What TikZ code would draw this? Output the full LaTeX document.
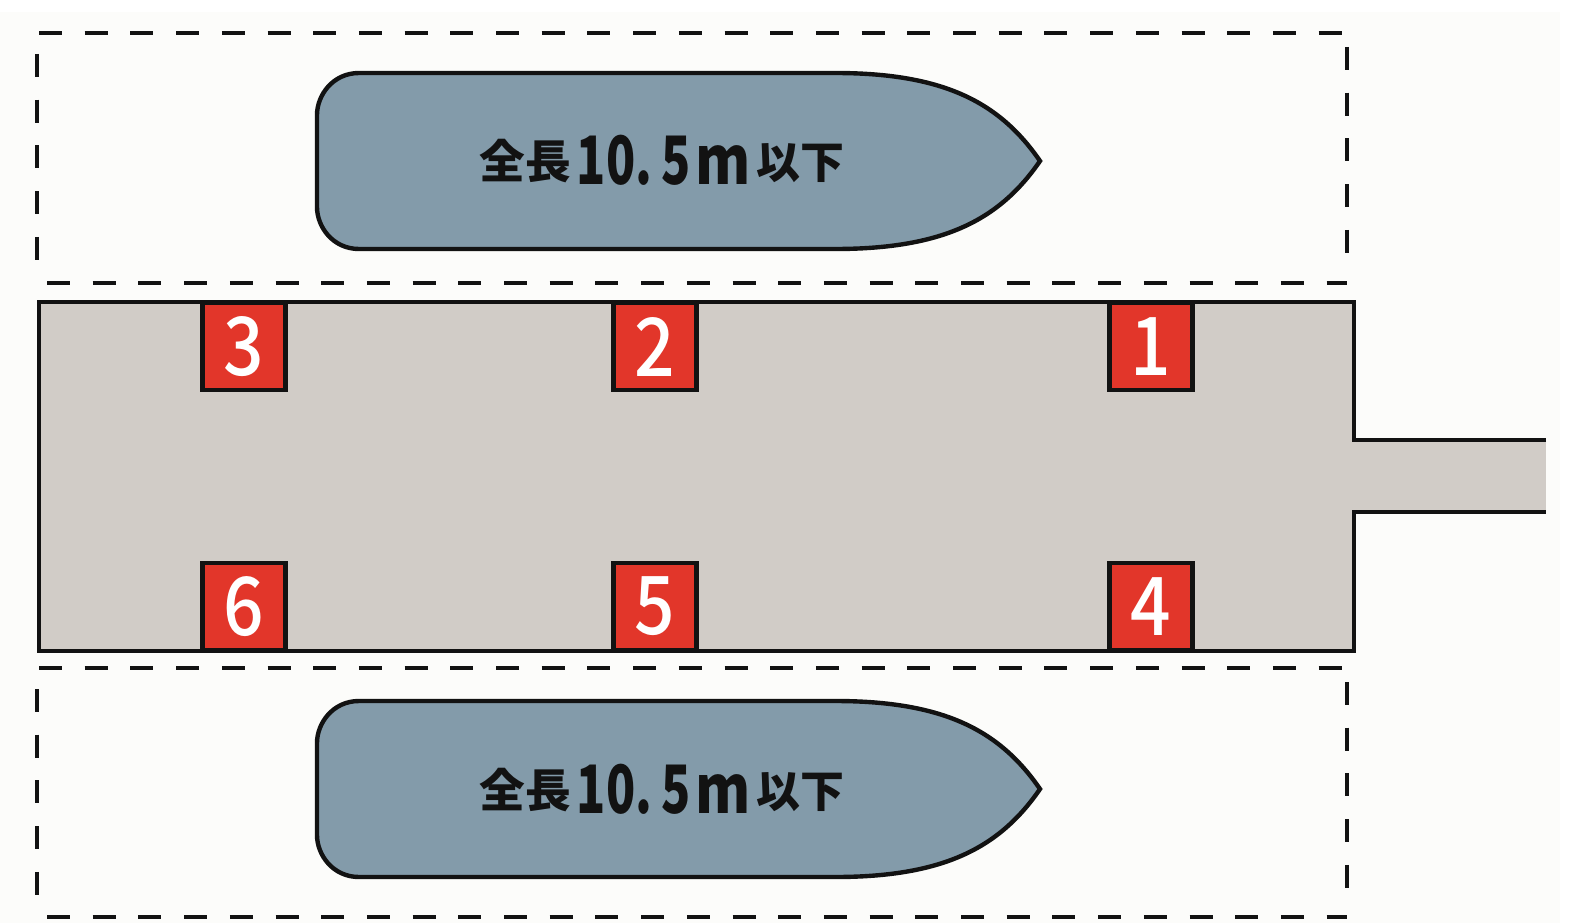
\documentclass[tikz,border=0pt]{standalone}
\usepackage{fontspec}
\newfontfamily\jpfont{Noto Sans CJK JP}
\newfontfamily\jpmedium{Noto Sans CJK JP Medium}
\definecolor{paper}{RGB}{252, 252, 250}
\definecolor{quay}{RGB}{209, 204, 199}
\definecolor{hull}{RGB}{131, 155, 170}
\definecolor{signred}{RGB}{226, 54, 42}
\definecolor{ink}{RGB}{18, 18, 18}
\tikzset{
    zone/.style={ink, line width=1.3pt, dash pattern=on 0.23cm off 0.227cm},
    outline/.style={ink, line width=1.25pt, line join=miter},
    signbox/.style={draw=ink, fill=signred, line width=1.25pt, minimum width=0.83cm, minimum height=0.87cm, inner sep=0pt, text=white, font=\jpmedium\fontsize{23}{23}\selectfont},
    boatlabel/.style={text=ink, inner sep=0pt, anchor=base, font=\jpfont\bfseries}
}
\newcommand{\signdigit}[1]{\scalebox{.88}[1]{#1}}
\newcommand{\lengthtext}{\raisebox{0.06cm}{\fontsize{13}{14}\selectfont 全長}\hspace{0.06cm}{\jpmedium\fontsize{19}{20}\selectfont\scalebox{.72}[1]{10.}\hspace{0.09cm}\scalebox{.72}[1]{5}\hspace{0.05cm}\scalebox{.84}[1]{m}}\hspace{0.06cm}\raisebox{0.06cm}{\fontsize{12.5}{14}\selectfont 以下}}
\begin{document}
\begin{tikzpicture}
        \useasboundingbox (0.00, 0.00) rectangle (15.77, 9.23);
        \fill[paper]       (0.00, 0.00) rectangle (15.60, 9.11);
        % upper berth
        \draw[zone]        (0.39, 8.90) -- (13.47, 8.90);
        \draw[zone]        (0.37, 8.69) -- (0.37, 6.50);
        \draw[zone]        (0.47, 6.40) -- (13.47, 6.40);
        \draw[zone]        (13.47, 8.76) -- (13.47, 6.50);
        % lower berth
        \draw[zone]        (0.39, 2.55) -- (13.47, 2.55);
        \draw[zone]        (0.37, 2.34) -- (0.37, 0.15);
        \draw[zone]        (0.47, 0.06) -- (13.47, 0.06);
        \draw[zone]        (13.47, 2.41) -- (13.47, 0.15);
        % pier
        \fill[quay]        (0.39, 6.21) rectangle (13.54, 2.72);
        \fill[quay]        (13.54, 4.83) rectangle (15.46, 4.11);
        \draw[outline]     (15.46, 4.83) -- (13.54, 4.83) -- (13.54, 6.21) -- (0.39, 6.21) -- (0.39, 2.72) -- (13.54, 2.72) -- (13.54, 4.11) -- (15.46, 4.11);
        % boats
        \filldraw[outline, fill=hull] (3.59, 8.50) -- (8.35, 8.50) .. controls (9.45, 8.50) and (10.00, 8.20) .. (10.40, 7.62) .. controls (10.00, 7.04) and (9.45, 6.74) .. (8.35, 6.74) -- (3.59, 6.74) .. controls (3.33, 6.74) and (3.17, 6.96) .. (3.17, 7.16) -- (3.17, 8.08) .. controls (3.17, 8.28) and (3.33, 8.50) .. (3.59, 8.50) -- cycle;
        \filldraw[outline, fill=hull] (3.59, 2.22) -- (8.35, 2.22) .. controls (9.45, 2.22) and (10.00, 1.92) .. (10.40, 1.34) .. controls (10.00, 0.76) and (9.45, 0.46) .. (8.35, 0.46) -- (3.59, 0.46) .. controls (3.33, 0.46) and (3.17, 0.68) .. (3.17, 0.88) -- (3.17, 1.80) .. controls (3.17, 2.00) and (3.33, 2.22) .. (3.59, 2.22) -- cycle;
        \node[boatlabel] (upperlabel) at (6.62, 7.38) {\lengthtext};
        \node[boatlabel] (lowerlabel) at (6.62, 1.10) {\lengthtext};
        % numbered signs
        \node[signbox] (signthree) at ( 2.44, 5.765) {\signdigit{3}};
        \node[signbox] (signtwo)   at ( 6.55, 5.765) {\signdigit{2}};
        \node[signbox] (signone)   at (11.51, 5.765) {\signdigit{1}};
        \node[signbox] (signsix)   at ( 2.44, 3.165) {\signdigit{6}};
        \node[signbox] (signfive)  at ( 6.55, 3.165) {\signdigit{5}};
        \node[signbox] (signfour)  at (11.51, 3.165) {\signdigit{4}};
\end{tikzpicture}
\end{document}
